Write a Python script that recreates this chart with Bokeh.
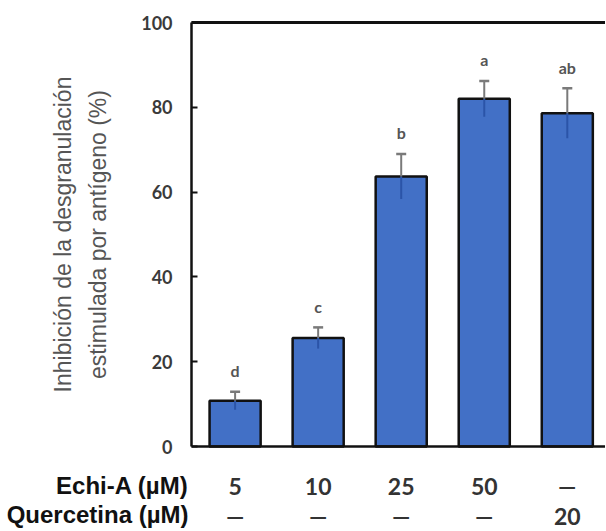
from bokeh.plotting import figure
from bokeh.models import (ColumnDataSource, Range1d, FixedTicker, LinearAxis,
                          Label)
from bokeh.core.properties import value
from bokeh.embed import file_html
from bokeh.resources import INLINE

# ---- data ----
positions = [0, 1, 2, 3, 4]
echi_labels = ["5", "10", "25", "50", "\u2014"]
querc_labels = ["\u2014", "\u2014", "\u2014", "\u2014", "20"]
inhibition = [10.8, 25.6, 63.7, 82.0, 78.6]
errors = [2.1, 2.5, 5.3, 4.2, 5.9]
letters = ["d", "c", "b", "a", "ab"]
y_ticks = [0, 20, 40, 60, 80, 100]

upper = [v + e for v, e in zip(inhibition, errors)]
lower = [v - e for v, e in zip(inhibition, errors)]
letter_y = [u + 5 for u in upper]

X_LEFT, X_RIGHT = -0.525, 4.46   # plotting box (axis frame) in data units
Y_BOTTOM, Y_TOP = 0, 100

src = ColumnDataSource(dict(x=positions, top=inhibition, upper=upper,
                            lower=lower, letter=letters, ly=letter_y))

p = figure(width=605, height=530, output_backend="svg", toolbar_location=None,
           x_range=Range1d(-2.825, X_RIGHT), y_range=Range1d(-19.8, 105.19),
           min_border_left=0, min_border_right=0, min_border_top=0,
           min_border_bottom=0, background_fill_color="white",
           border_fill_color="white")
p.outline_line_color = None
p.grid.visible = False
p.xaxis.visible = False
p.yaxis.visible = False

# bars
p.vbar(x="x", top="top", width=0.615, bottom=0, source=src,
       fill_color="#4270C6", line_color="#111111", line_width=2.5)

# error bars: lower part inside bar, upper part above
p.segment(x0="x", y0="lower", x1="x", y1="top", source=src,
          line_color="#2B54A8", line_width=2)
p.segment(x0="x", y0="top", x1="x", y1="upper", source=src,
          line_color="#7a7a7a", line_width=2)
cap_src = ColumnDataSource(dict(x=positions, y=upper))
p.dash(x="x", y="y", source=cap_src, size=10, line_color="#7a7a7a",
       line_width=2.5)

# significance letters
p.text(x="x", y="ly", text="letter", source=src, text_align="center",
       text_baseline="middle", text_font=value("Lato"),
       text_font_style="bold", text_font_size="16px", text_color="#555555")

# y axis placed at the left edge of the plotting box
ya = LinearAxis(fixed_location=X_LEFT, bounds=(Y_BOTTOM, Y_TOP),
                ticker=FixedTicker(ticks=y_ticks))
ya.minor_tick_line_color = None
ya.major_tick_in = 6
ya.major_tick_out = 0
ya.major_tick_line_width = 2
ya.major_tick_line_color = "#111111"
ya.axis_line_width = 2.5
ya.axis_line_color = "#111111"
ya.major_label_text_font = "Lato"
ya.major_label_text_font_style = "bold"
ya.major_label_text_font_size = "18px"
ya.major_label_text_color = "#3a3a3a"
ya.major_label_standoff = 19
ya.axis_label = "Inhibici\u00f3n de la desgranulaci\u00f3n\nestimulada por ant\u00edgeno (%)"
ya.axis_label_text_font = "Liberation Sans"
ya.axis_label_text_font_style = "normal"
ya.axis_label_text_font_size = "23px"
ya.axis_label_text_color = "#555555"
ya.axis_label_text_line_height = 1.35
ya.axis_label_standoff = 27
p.add_layout(ya, "left")

# top border of the plotting box
ta = LinearAxis(fixed_location=Y_TOP, bounds=(X_LEFT, X_RIGHT),
                ticker=FixedTicker(ticks=[]))
ta.major_tick_in = 0
ta.major_tick_out = 0
ta.minor_tick_line_color = None
ta.axis_line_width = 3
ta.axis_line_color = "#111111"
p.add_layout(ta, "above")

# bottom axes with Echi-A and Quercetina values
ax1 = LinearAxis(fixed_location=Y_BOTTOM, bounds=(X_LEFT, X_RIGHT),
                 ticker=FixedTicker(ticks=positions),
                 major_label_overrides={k: s for k, s in zip(positions, echi_labels)})
ax2 = LinearAxis(fixed_location=Y_BOTTOM, bounds=(X_LEFT, X_RIGHT),
                 ticker=FixedTicker(ticks=positions),
                 major_label_overrides={k: s for k, s in zip(positions, querc_labels)})
for ax in (ax1, ax2):
    ax.major_tick_in = 0
    ax.major_tick_out = 0
    ax.minor_tick_line_color = None
    ax.major_tick_line_color = None
    ax.major_label_text_font = "Lato"
    ax.major_label_text_font_style = "bold"
    ax.major_label_text_font_size = "23px"
    ax.major_label_text_color = "#333333"
ax1.axis_line_width = 2.5
ax1.axis_line_color = "#111111"
ax1.major_label_standoff = 25
ax2.axis_line_color = None
ax2.major_label_standoff = 55
p.add_layout(ax1, "below")
p.add_layout(ax2, "below")

# row titles, right-aligned to the left edge of the plotting box
for txt, off in (("Echi-A (\u00b5M)", -39), ("Quercetina (\u00b5M)", -68)):
    p.add_layout(Label(x=X_LEFT, y=Y_BOTTOM, x_offset=-3, y_offset=off,
                       text=txt, text_align="right", text_baseline="alphabetic",
                       text_font="Liberation Sans", text_font_style="bold",
                       text_font_size="24px", text_color="#111111"))

open("out.html", "w").write(file_html(p, INLINE))
